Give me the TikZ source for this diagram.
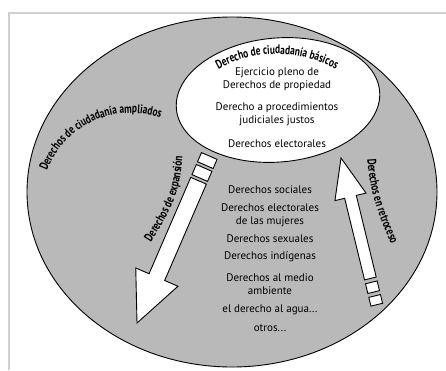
\documentclass[tikz,border=0pt]{standalone}
\usepackage{fontspec}
\setmainfont{PT Sans}
\newfontfamily\arcofont[FakeStretch=0.75]{PT Sans}
\usetikzlibrary{decorations.text}

\definecolor{anillo}{RGB}{185,185,185}
\definecolor{marco}{RGB}{208,208,208}

\tikzset{
  lista/.style={align=center, inner sep=0pt, font=\fontsize{11}{13}\selectfont},
  flecha/.style={draw=black, fill=white, line width=0.9pt, line join=miter},
}

\begin{document}
\begin{tikzpicture}[x=1pt, y=1pt]
    \useasboundingbox (0,0) rectangle (446,370);

    % Marco
    \draw[marco, line width=2pt] (9,0) -- (9,357) -- (446,357);

    % Elipse exterior y elipse interior
    \draw[fill=anillo, line width=0.9pt] (232,178) ellipse [x radius=205, y radius=175];
    \draw[fill=white, line width=0.9pt, rotate around={5:(278,270)}] (278,270) ellipse [x radius=102, y radius=62];

    % Textos curvos
    \path[decorate, decoration={text along path, text align=center,
        text={|\arcofont\bfseries\fontsize{12.5}{12.5}\selectfont|Derecho de ciudadanía básicos}}]
        (277,194) ++(128:122) arc [start angle=128, end angle=52, radius=122];
    \path[decorate, decoration={text along path, text align=center,
        text={|\arcofont\bfseries\fontsize{12.5}{12.5}\selectfont|Derechos de ciudadanía ampliados}}]
        (131,167) ++(168:90) arc [start angle=168, end angle=62, radius=90];
    \path[decorate, decoration={text along path, text align=center,
        text={|\arcofont\bfseries\fontsize{12.5}{12.5}\selectfont|Derechos de expansión}}]
        (142,114) .. controls (170,158) and (183,175) .. (183,230);
    \path[decorate, decoration={text along path, text align=center,
        text={|\arcofont\bfseries\fontsize{12.5}{12.5}\selectfont|Derechos en retroceso}}]
        (367,227) .. controls (367,185) and (375,160) .. (398,111);

    % Flecha de expansion
    \begin{scope}[shift={(137,47)}, rotate=246.6]
        \draw[flecha] (0,0) -- (-50,23) -- (-50,8.5) -- (-155,8.5) -- (-155,-8.5) -- (-50,-8.5) -- (-50,-23) -- cycle;
        \draw[flecha] (-158,-8.5) rectangle (-169,8.5);
        \draw[flecha] (-172,-8.5) rectangle (-182,8.5);
    \end{scope}

    % Flecha de retroceso
    \begin{scope}[shift={(341,212)}, rotate=103.7]
        \draw[flecha] (0,0) -- (-40,16) -- (-40,6) -- (-124,6) -- (-124,-6) -- (-40,-6) -- (-40,-16) -- cycle;
        \draw[flecha] (-128,-6) rectangle (-138,6);
        \draw[flecha] (-142,-6) rectangle (-151,6);
    \end{scope}

    % Derechos basicos
    \node[lista] (pleno) at (277,291) {Ejercicio pleno de\\Derechos de propiedad};
    \node[lista] (judicial) at (277,256) {Derecho a procedimientos\\judiciales justos};
    \node[lista] (electoral) at (277,226) {Derechos electorales};

    % Derechos ampliados
    \node[lista] (social) at (270,180) {Derechos sociales};
    \node[lista] (mujeres) at (270,155) {Derechos electorales\\de las mujeres};
    \node[lista] (sexual) at (270,131) {Derechos sexuales};
    \node[lista] (indigena) at (270,113) {Derechos indígenas};
    \node[lista] (ambiente) at (270,85.5) {Derechos al medio\\ambiente};
    \node[lista] (agua) at (270,60) {el derecho al agua...};
    \node[lista] (otros) at (270,42) {otros...};
\end{tikzpicture}
\end{document}
